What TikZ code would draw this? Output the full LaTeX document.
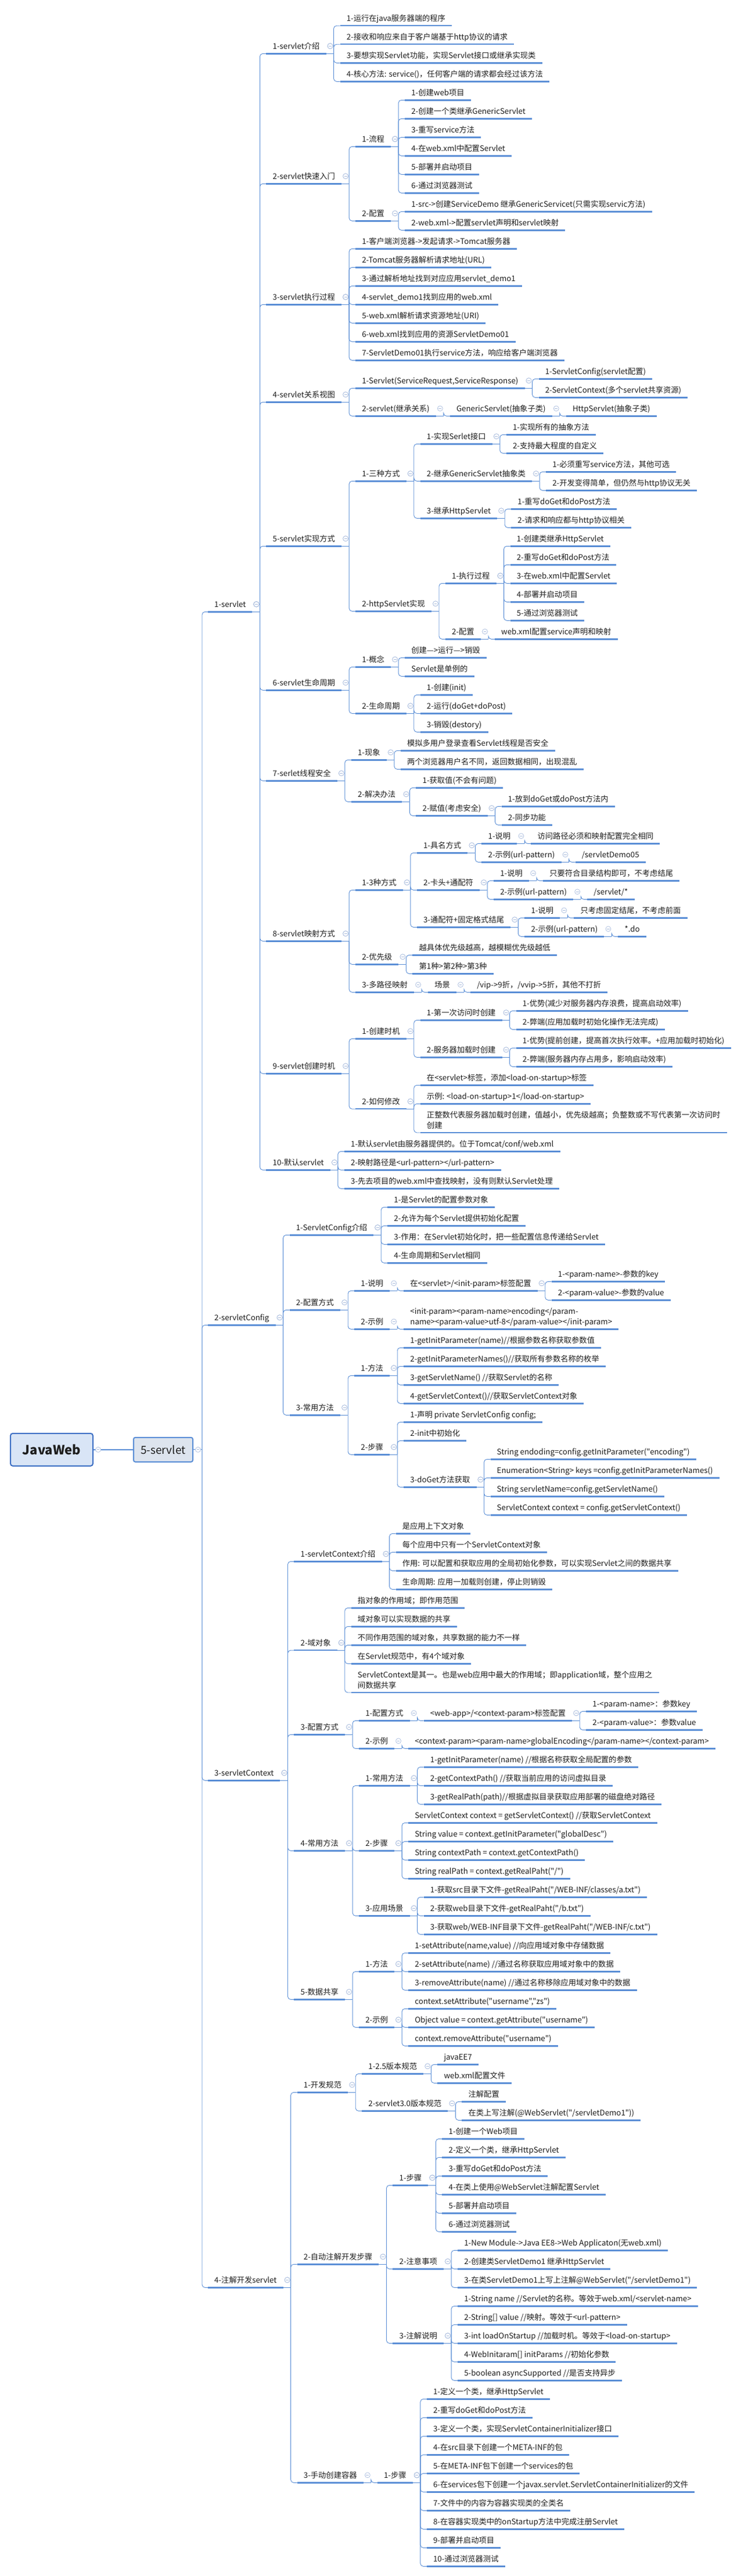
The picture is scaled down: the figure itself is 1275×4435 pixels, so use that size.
\documentclass[tikz,border=0pt]{standalone}
\usepackage{fontspec}
\newfontfamily\cjk{Noto Sans CJK SC}
\usepackage{tikz}
\definecolor{lineblue}{HTML}{5A8ED6}
\definecolor{foldgray}{HTML}{A9BCDD}
\definecolor{textdark}{HTML}{1E1E1E}
\definecolor{boxfill}{HTML}{DDE4EE}
\definecolor{rootfill}{HTML}{D9E5F6}
\definecolor{rootline}{HTML}{3D6FC4}
\tikzstyle{topic} = [anchor=south west, inner xsep=11pt, inner ysep=5.3pt, text height=10pt, text depth=2.5pt, text=textdark, font=\cjk\fontsize{13.3}{17.7}\selectfont]
\tikzstyle{uline} = [draw=lineblue, line width=2.4pt]
\tikzstyle{link} = [draw=lineblue, line width=0.9pt, rounded corners=5pt]
\tikzstyle{fold} = [draw=foldgray, fill=white, line width=0.7pt]
\tikzstyle{rootbox} = [draw=rootline, fill=rootfill, line width=2pt, rounded corners=4pt, minimum width=142pt, minimum height=56pt, text=textdark, font=\cjk\bfseries\fontsize{22}{26}\selectfont]
\tikzstyle{mainbox} = [draw=lineblue, fill=boxfill, line width=2pt, rounded corners=3pt, minimum width=102pt, minimum height=42pt, text=textdark, font=\cjk\fontsize{19}{23}\selectfont]
\newcommand{\kid}[4]{%
	\path (#1.south east) ++(24pt,0) coordinate (#2pos);
	\node[topic] (#2) at (#2pos |- 0,#3) {#4};
	\draw[uline] (#2.south west) -- (#2.south east);
	\draw[link] (#1.south east) -- ++(13pt,0);
	\draw[link] ([xshift=13pt]#1.south east) |- (#2.south west);
	\draw[fold] ([shift={(7pt,13pt)}]#1.south east) circle (4.5pt);
	\draw[fold] ([shift={(4.6pt,13pt)}]#1.south east) -- ++(4.8pt,0);
}
\newcommand{\mainkid}[3]{%
	\path (sv.east) ++(25pt,0) coordinate (#1pos);
	\node[topic] (#1) at (#1pos |- 0,#2) {#3};
	\draw[uline] (#1.south west) -- (#1.south east);
	\draw[link] ([xshift=15pt]sv.east) |- (#1.south west);
}
\begin{document}
\begin{tikzpicture}[x=1pt, y=-1pt]
	\fill[white] (0,0) rectangle (1275,4435);
	\useasboundingbox (0,0) rectangle (1275,4435);

	\node[rootbox] (jw) at (89,2495.8) {JavaWeb};
	\node[mainbox] (sv) at (281,2495.8) {5-servlet};
	\draw[lineblue, line width=1.5pt] (jw) -- (sv);
	\draw[link] (sv.east) -- ++(15pt,0);

	\mainkid{a}{1053.3}{1-servlet}
	\mainkid{b}{2281.3}{2-servletConfig}
	\mainkid{c}{3065.3}{3-servletContext}
	\mainkid{d}{3938.3}{4-注解开发servlet}

	\kid{a}{a1}{92.3}{1-servlet介绍}
	\kid{a1}{a1a}{44.3}{1-运行在java服务器端的程序}
	\kid{a1}{a1b}{76.3}{2-接收和响应来自于客户端基于http协议的请求}
	\kid{a1}{a1c}{108.3}{3-要想实现Servlet功能，实现Servlet接口或继承实现类}
	\kid{a1}{a1d}{140.3}{4-核心方法: service()，任何客户端的请求都会经过该方法}

	\kid{a}{a2}{316.3}{2-servlet快速入门}
	\kid{a2}{a2a}{252.3}{1-流程}
	\kid{a2a}{a2a1}{172.3}{1-创建web项目}
	\kid{a2a}{a2a2}{204.3}{2-创建一个类继承GenericServlet}
	\kid{a2a}{a2a3}{236.3}{3-重写service方法}
	\kid{a2a}{a2a4}{268.3}{4-在web.xml中配置Servlet}
	\kid{a2a}{a2a5}{300.3}{5-部署并启动项目}
	\kid{a2a}{a2a6}{332.3}{6-通过浏览器测试}
	\kid{a2}{a2b}{380.3}{2-配置}
	\kid{a2b}{a2b1}{364.3}{1-src->创建ServiceDemo 继承GenericServicet(只需实现servic方法)}
	\kid{a2b}{a2b2}{396.3}{2-web.xml->配置servlet声明和servlet映射}

	\kid{a}{a3}{524.3}{3-servlet执行过程}
	\kid{a3}{a3a}{428.3}{1-客户端浏览器->发起请求->Tomcat服务器}
	\kid{a3}{a3b}{460.3}{2-Tomcat服务器解析请求地址(URL)}
	\kid{a3}{a3c}{492.3}{3-通过解析地址找到对应应用servlet\_demo1}
	\kid{a3}{a3d}{524.3}{4-servlet\_demo1找到应用的web.xml}
	\kid{a3}{a3e}{556.3}{5-web.xml解析请求资源地址(URI)}
	\kid{a3}{a3f}{588.3}{6-web.xml找到应用的资源ServletDemo01}
	\kid{a3}{a3g}{620.3}{7-ServletDemo01执行service方法，响应给客户端浏览器}

	\kid{a}{a4}{692.3}{4-servlet关系视图}
	\kid{a4}{a4a}{668.3}{1-Servlet(ServiceRequest,ServiceResponse)}
	\kid{a4a}{a4a1}{652.3}{1-ServletConfig(servlet配置)}
	\kid{a4a}{a4a2}{684.3}{2-ServletContext(多个servlet共享资源)}
	\kid{a4}{a4b}{716.3}{2-servlet(继承关系)}
	\kid{a4b}{a4b1}{716.3}{GenericServlet(抽象子类)}
	\kid{a4b1}{a4b2}{716.3}{HttpServlet(抽象子类)}

	\kid{a}{a5}{940.3}{5-servlet实现方式}
	\kid{a5}{a5a}{828.3}{1-三种方式}
	\kid{a5a}{a5a1}{764.3}{1-实现Serlet接口}
	\kid{a5a1}{a5a1a}{748.3}{1-实现所有的抽象方法}
	\kid{a5a1}{a5a1b}{780.3}{2-支持最大程度的自定义}
	\kid{a5a}{a5a2}{828.3}{2-继承GenericServlet抽象类}
	\kid{a5a2}{a5a2a}{812.3}{1-必须重写service方法，其他可选}
	\kid{a5a2}{a5a2b}{844.3}{2-开发变得简单，但仍然与http协议无关}
	\kid{a5a}{a5a3}{892.3}{3-继承HttpServlet}
	\kid{a5a3}{a5a3a}{876.3}{1-重写doGet和doPost方法}
	\kid{a5a3}{a5a3b}{908.3}{2-请求和响应都与http协议相关}
	\kid{a5}{a5b}{1052.3}{2-httpServlet实现}
	\kid{a5b}{a5b1}{1004.3}{1-执行过程}
	\kid{a5b1}{a5b1a}{940.3}{1-创建类继承HttpServlet}
	\kid{a5b1}{a5b1b}{972.3}{2-重写doGet和doPost方法}
	\kid{a5b1}{a5b1c}{1004.3}{3-在web.xml中配置Servlet}
	\kid{a5b1}{a5b1d}{1036.3}{4-部署并启动项目}
	\kid{a5b1}{a5b1e}{1068.3}{5-通过浏览器测试}
	\kid{a5b}{a5b2}{1100.3}{2-配置}
	\kid{a5b2}{a5b2a}{1100.3}{web.xml配置service声明和映射}

	\kid{a}{a6}{1188.3}{6-servlet生命周期}
	\kid{a6}{a6a}{1148.3}{1-概念}
	\kid{a6a}{a6a1}{1132.3}{创建—>运行—>销毁}
	\kid{a6a}{a6a2}{1164.3}{Servlet是单例的}
	\kid{a6}{a6b}{1228.3}{2-生命周期}
	\kid{a6b}{a6b1}{1196.3}{1-创建(init)}
	\kid{a6b}{a6b2}{1228.3}{2-运行(doGet+doPost)}
	\kid{a6b}{a6b3}{1260.3}{3-销毁(destory)}

	\kid{a}{a7}{1344.3}{7-serlet线程安全}
	\kid{a7}{a7a}{1308.3}{1-现象}
	\kid{a7a}{a7a1}{1292.3}{模拟多用户登录查看Servlet线程是否安全}
	\kid{a7a}{a7a2}{1324.3}{两个浏览器用户名不同，返回数据相同，出现混乱}
	\kid{a7}{a7b}{1380.3}{2-解决办法}
	\kid{a7b}{a7b1}{1356.3}{1-获取值(不会有问题)}
	\kid{a7b}{a7b2}{1404.3}{2-赋值(考虑安全)}
	\kid{a7b2}{a7b2a}{1388.3}{1-放到doGet或doPost方法内}
	\kid{a7b2}{a7b2b}{1420.3}{2-同步功能}

	\kid{a}{a8}{1620.3}{8-servlet映射方式}
	\kid{a8}{a8a}{1532.3}{1-3种方式}
	\kid{a8a}{a8a1}{1468.3}{1-具名方式}
	\kid{a8a1}{a8a1a}{1452.3}{1-说明}
	\kid{a8a1a}{a8a1a1}{1452.3}{访问路径必须和映射配置完全相同}
	\kid{a8a1}{a8a1b}{1484.3}{2-示例(url-pattern)}
	\kid{a8a1b}{a8a1b1}{1484.3}{/servletDemo05}
	\kid{a8a}{a8a2}{1532.3}{2-卡头+通配符}
	\kid{a8a2}{a8a2a}{1516.3}{1-说明}
	\kid{a8a2a}{a8a2a1}{1516.3}{只要符合目录结构即可，不考虑结尾}
	\kid{a8a2}{a8a2b}{1548.3}{2-示例(url-pattern)}
	\kid{a8a2b}{a8a2b1}{1548.3}{/servlet/*}
	\kid{a8a}{a8a3}{1596.3}{3-通配符+固定格式结尾}
	\kid{a8a3}{a8a3a}{1580.3}{1-说明}
	\kid{a8a3a}{a8a3a1}{1580.3}{只考虑固定结尾，不考虑前面}
	\kid{a8a3}{a8a3b}{1612.3}{2-示例(url-pattern)}
	\kid{a8a3b}{a8a3b1}{1612.3}{*.do}
	\kid{a8}{a8b}{1660.3}{2-优先级}
	\kid{a8b}{a8b1}{1644.3}{越具体优先级越高，越模糊优先级越低}
	\kid{a8b}{a8b2}{1676.3}{第1种>第2种>第3种}
	\kid{a8}{a8c}{1708.3}{3-多路径映射}
	\kid{a8c}{a8c1}{1708.3}{场景}
	\kid{a8c1}{a8c2}{1708.3}{/vip->9折，/vvip->5折，其他不打折}

	\kid{a}{a9}{1848.3}{9-servlet创建时机}
	\kid{a9}{a9a}{1788.3}{1-创建时机}
	\kid{a9a}{a9a1}{1756.3}{1-第一次访问时创建}
	\kid{a9a1}{a9a1a}{1740.3}{1-优势(减少对服务器内存浪费，提高启动效率)}
	\kid{a9a1}{a9a1b}{1772.3}{2-弊端(应用加载时初始化操作无法完成)}
	\kid{a9a}{a9a2}{1820.3}{2-服务器加载时创建}
	\kid{a9a2}{a9a2a}{1804.3}{1-优势(提前创建，提高首次执行效率。+应用加载时初始化)}
	\kid{a9a2}{a9a2b}{1836.3}{2-弊端(服务器内存占用多，影响启动效率)}
	\kid{a9}{a9b}{1909.2}{2-如何修改}
	\kid{a9b}{a9b1}{1868.3}{在<servlet>标签，添加<load-on-startup>标签}
	\kid{a9b}{a9b2}{1900.3}{示例: <load-on-startup>1</load-on-startup>}
	\kid{a9b}{a9b3}{1950}{\vbox{\hbox{正整数代表服务器加载时创建，值越小，优先级越高；负整数或不写代表第一次访问时}\hbox{创建}}}

	\kid{a}{a10}{2014.3}{10-默认servlet}
	\kid{a10}{a10a}{1982.3}{1-默认servlet由服务器提供的。位于Tomcat/conf/web.xml}
	\kid{a10}{a10b}{2014.3}{2-映射路径是<url-pattern></url-pattern>}
	\kid{a10}{a10c}{2046.3}{3-先去项目的web.xml中查找映射，没有则默认Servlet处理}

	\kid{b}{b1}{2126.3}{1-ServletConfig介绍}
	\kid{b1}{b1a}{2078.3}{1-是Servlet的配置参数对象}
	\kid{b1}{b1b}{2110.3}{2-允许为每个Servlet提供初始化配置}
	\kid{b1}{b1c}{2142.3}{3-作用：在Servlet初始化时，把一些配置信息传递给Servlet}
	\kid{b1}{b1d}{2174.3}{4-生命周期和Servlet相同}
	\kid{b}{b2}{2255.3}{2-配置方式}
	\kid{b2}{b2a}{2222.3}{1-说明}
	\kid{b2a}{b2a1}{2222.3}{在<servlet>/<init-param>标签配置}
	\kid{b2a1}{b2a1a}{2206.3}{1-<param-name>-参数的key}
	\kid{b2a1}{b2a1b}{2238.3}{2-<param-value>-参数的value}
	\kid{b2}{b2b}{2288.3}{2-示例}
	\kid{b2b}{b2b1}{2288.3}{\vbox{\hbox{<init-param><param-name>encoding</param-}\hbox{name><param-value>utf-8</param-value></init-param>}}}
	\kid{b}{b3}{2436.3}{3-常用方法}
	\kid{b3}{b3a}{2368.3}{1-方法}
	\kid{b3a}{b3a1}{2320.3}{1-getInitParameter(name)//根据参数名称获取参数值}
	\kid{b3a}{b3a2}{2352.3}{2-getInitParameterNames()//获取所有参数名称的枚举}
	\kid{b3a}{b3a3}{2384.3}{3-getServletName() //获取Servlet的名称}
	\kid{b3a}{b3a4}{2416.3}{4-getServletContext()//获取ServletContext对象}
	\kid{b3}{b3b}{2504.3}{2-步骤}
	\kid{b3b}{b3b1}{2448.3}{1-声明 private ServletConfig config;}
	\kid{b3b}{b3b2}{2480.3}{2-init中初始化}
	\kid{b3b}{b3b3}{2560.3}{3-doGet方法获取}
	\kid{b3b3}{b3b3a}{2512.3}{String endoding=config.getInitParameter("encoding")}
	\kid{b3b3}{b3b3b}{2544.3}{Enumeration<String> keys =config.getInitParameterNames()}
	\kid{b3b3}{b3b3c}{2576.3}{String servletName=config.getServletName()}
	\kid{b3b3}{b3b3d}{2608.3}{ServletContext context = config.getServletContext()}

	\kid{c}{c1}{2688.3}{1-servletContext介绍}
	\kid{c1}{c1a}{2640.3}{是应用上下文对象}
	\kid{c1}{c1b}{2672.3}{每个应用中只有一个ServletContext对象}
	\kid{c1}{c1c}{2704.3}{作用: 可以配置和获取应用的全局初始化参数，可以实现Servlet之间的数据共享}
	\kid{c1}{c1d}{2736.3}{生命周期: 应用一加载则创建，停止则销毁}
	\kid{c}{c2}{2841.2}{2-域对象}
	\kid{c2}{c2a}{2768.3}{指对象的作用域；即作用范围}
	\kid{c2}{c2b}{2800.3}{域对象可以实现数据的共享}
	\kid{c2}{c2c}{2832.3}{不同作用范围的域对象，共享数据的能力不一样}
	\kid{c2}{c2d}{2864.3}{在Servlet规范中，有4个域对象}
	\kid{c2}{c2e}{2914}{\vbox{\hbox{ServletContext是其一。也是web应用中最大的作用域；即application域，整个应用之}\hbox{间数据共享}}}
	\kid{c}{c3}{2986.3}{3-配置方式}
	\kid{c3}{c3a}{2962.3}{1-配置方式}
	\kid{c3a}{c3a1}{2962.3}{<web-app>/<context-param>标签配置}
	\kid{c3a1}{c3a1a}{2946.3}{1-<param-name>：参数key}
	\kid{c3a1}{c3a1b}{2978.3}{2-<param-value>：参数value}
	\kid{c3}{c3b}{3010.3}{2-示例}
	\kid{c3b}{c3b1}{3010.3}{<context-param><param-name>globalEncoding</param-name></context-param>}
	\kid{c}{c4}{3186.3}{4-常用方法}
	\kid{c4}{c4a}{3074.3}{1-常用方法}
	\kid{c4a}{c4a1}{3042.3}{1-getInitParameter(name) //根据名称获取全局配置的参数}
	\kid{c4a}{c4a2}{3074.3}{2-getContextPath() //获取当前应用的访问虚拟目录}
	\kid{c4a}{c4a3}{3106.3}{3-getRealPath(path)//根据虚拟目录获取应用部署的磁盘绝对路径}
	\kid{c4}{c4b}{3186.3}{2-步骤}
	\kid{c4b}{c4b1}{3138.3}{ServletContext context = getServletContext() //获取ServletContext}
	\kid{c4b}{c4b2}{3170.3}{String value = context.getInitParameter("globalDesc")}
	\kid{c4b}{c4b3}{3202.3}{String contextPath = context.getContextPath()}
	\kid{c4b}{c4b4}{3234.3}{String realPath = context.getRealPaht("/")}
	\kid{c4}{c4c}{3298.3}{3-应用场景}
	\kid{c4c}{c4c1}{3266.3}{1-获取src目录下文件-getRealPaht("/WEB-INF/classes/a.txt")}
	\kid{c4c}{c4c2}{3298.3}{2-获取web目录下文件-getRealPaht("/b.txt")}
	\kid{c4c}{c4c3}{3330.3}{3-获取web/WEB-INF目录下文件-getRealPaht("/WEB-INF/c.txt")}
	\kid{c}{c5}{3442.3}{5-数据共享}
	\kid{c5}{c5a}{3394.3}{1-方法}
	\kid{c5a}{c5a1}{3362.3}{1-setAttribute(name,value) //向应用域对象中存储数据}
	\kid{c5a}{c5a2}{3394.3}{2-setAttribute(name) //通过名称获取应用域对象中的数据}
	\kid{c5a}{c5a3}{3426.3}{3-removeAttribute(name) //通过名称移除应用域对象中的数据}
	\kid{c5}{c5b}{3490.3}{2-示例}
	\kid{c5b}{c5b1}{3458.3}{context.setAttribute("username","zs")}
	\kid{c5b}{c5b2}{3490.3}{Object value = context.getAttribute("username")}
	\kid{c5b}{c5b3}{3522.3}{context.removeAttribute("username")}

	\kid{d}{d1}{3602.3}{1-开发规范}
	\kid{d1}{d1a}{3570.3}{1-2.5版本规范}
	\kid{d1a}{d1a1}{3554.3}{javaEE7}
	\kid{d1a}{d1a2}{3586.3}{web.xml配置文件}
	\kid{d1}{d1b}{3634.3}{2-servlet3.0版本规范}
	\kid{d1b}{d1b1}{3618.3}{注解配置}
	\kid{d1b}{d1b2}{3650.3}{在类上写注解(@WebServlet("/servletDemo1"))}
	\kid{d}{d2}{3898.3}{2-自动注解开发步骤}
	\kid{d2}{d2a}{3762.3}{1-步骤}
	\kid{d2a}{d2a1}{3682.3}{1-创建一个Web项目}
	\kid{d2a}{d2a2}{3714.3}{2-定义一个类，继承HttpServlet}
	\kid{d2a}{d2a3}{3746.3}{3-重写doGet和doPost方法}
	\kid{d2a}{d2a4}{3778.3}{4-在类上使用@WebServlet注解配置Servlet}
	\kid{d2a}{d2a5}{3810.3}{5-部署并启动项目}
	\kid{d2a}{d2a6}{3842.3}{6-通过浏览器测试}
	\kid{d2}{d2b}{3906.3}{2-注意事项}
	\kid{d2b}{d2b1}{3874.3}{1-New Module->Java EE8->Web Applicaton(无web.xml)}
	\kid{d2b}{d2b2}{3906.3}{2-创建类ServletDemo1 继承HttpServlet}
	\kid{d2b}{d2b3}{3938.3}{3-在类ServletDemo1上写上注解@WebServlet("/servletDemo1")}
	\kid{d2}{d2c}{4034.3}{3-注解说明}
	\kid{d2c}{d2c1}{3970.3}{1-String name //Servlet的名称。等效于web.xml/<servlet-name>}
	\kid{d2c}{d2c2}{4002.3}{2-String[] value //映射。等效于<url-pattern>}
	\kid{d2c}{d2c3}{4034.3}{3-int loadOnStartup //加载时机。等效于<load-on-startup>}
	\kid{d2c}{d2c4}{4066.3}{4-WebInitaram[] initParams //初始化参数}
	\kid{d2c}{d2c5}{4098.3}{5-boolean asyncSupported //是否支持异步}
	\kid{d}{d3}{4274.3}{3-手动创建容器}
	\kid{d3}{d3a}{4274.3}{1-步骤}
	\kid{d3a}{d3a1}{4130.3}{1-定义一个类，继承HttpServlet}
	\kid{d3a}{d3a2}{4162.3}{2-重写doGet和doPost方法}
	\kid{d3a}{d3a3}{4194.3}{3-定义一个类，实现ServletContainerInitializer接口}
	\kid{d3a}{d3a4}{4226.3}{4-在src目录下创建一个META-INF的包}
	\kid{d3a}{d3a5}{4258.3}{5-在META-INF包下创建一个services的包}
	\kid{d3a}{d3a6}{4290.3}{6-在services包下创建一个javax.servlet.ServletContainerInitializer的文件}
	\kid{d3a}{d3a7}{4322.3}{7-文件中的内容为容器实现类的全类名}
	\kid{d3a}{d3a8}{4354.3}{8-在容器实现类中的onStartup方法中完成注册Servlet}
	\kid{d3a}{d3a9}{4386.3}{9-部署并启动项目}
	\kid{d3a}{d3a10}{4418.3}{10-通过浏览器测试}

	\draw[fold] ([xshift=8pt]sv.east) circle (4.5pt);
	\draw[fold] ([xshift=5.6pt]sv.east) -- ++(4.8pt,0);
	\draw[fold] ([xshift=8pt]jw.east) circle (4.5pt);
	\draw[fold] ([xshift=5.6pt]jw.east) -- ++(4.8pt,0);
\end{tikzpicture}
\end{document}
